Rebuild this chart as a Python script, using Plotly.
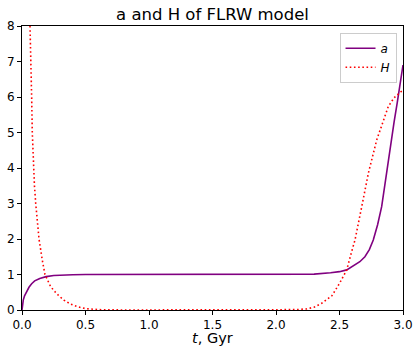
import plotly.graph_objects as go

# Scale factor a(t)
t_a = [0.0, 0.005, 0.01, 0.02, 0.037, 0.055, 0.076, 0.1, 0.14, 0.19, 0.25, 0.32, 0.4, 0.5,
       1.0, 1.5, 2.0, 2.3, 2.43, 2.5, 2.557, 2.6, 2.66, 2.70, 2.735, 2.766, 2.80, 2.832,
       2.87, 2.906, 2.93, 2.955, 2.98, 3.0]
a_vals = [0.0, 0.17, 0.28, 0.4, 0.52, 0.64, 0.74, 0.82, 0.89, 0.94, 0.97, 0.985, 0.995, 1.0,
          1.0, 1.0, 1.0, 1.01, 1.05, 1.08, 1.13, 1.22, 1.36, 1.5, 1.7, 1.97, 2.4, 2.91,
          3.85, 4.79, 5.3, 5.85, 6.4, 6.9]

# Hubble parameter H(t)
t_H = [0.063, 0.067, 0.071, 0.076, 0.081, 0.089, 0.098, 0.108, 0.12, 0.134, 0.16, 0.181,
       0.22, 0.247, 0.29, 0.33, 0.38, 0.44, 0.5, 0.6, 0.8, 1.0, 1.5, 2.0, 2.15, 2.24, 2.3,
       2.36, 2.44, 2.5, 2.557, 2.596, 2.622, 2.675, 2.727, 2.793, 2.84, 2.884, 2.93, 2.976, 3.0]
H_vals = [8.0, 7.5, 7.0, 6.0, 5.0, 4.0, 3.5, 3.0, 2.5, 2.0, 1.4, 1.0,
          0.7, 0.56, 0.4, 0.28, 0.17, 0.09, 0.04, 0.01, 0.0, 0.0, 0.0, 0.0, 0.01, 0.03, 0.08,
          0.19, 0.4, 0.75, 1.13, 1.65, 1.97, 2.91, 3.85, 4.79, 5.3, 5.73, 5.98, 6.12, 6.2]

x_ticks = [0.0, 0.5, 1.0, 1.5, 2.0, 2.5, 3.0]
x_ticktext = ["0.0", "0.5", "1.0", "1.5", "2.0", "2.5", "3.0"]
y_ticks = [0, 1, 2, 3, 4, 5, 6, 7, 8]

FONT = "DejaVu Sans"
W, H = 414, 346
L, R, T, B = 22, 11, 26, 36

fig = go.Figure()
fig.add_trace(go.Scatter(x=t_a, y=a_vals, mode="lines", name="<i>a</i>",
                         line=dict(color="purple", width=1.6)))
fig.add_trace(go.Scatter(x=t_H, y=H_vals, mode="lines", name="<i>H</i>",
                         line=dict(color="red", width=1.6, dash="1.6px,2.6px")))

fig.update_layout(
    width=W, height=H,
    margin=dict(l=L, r=R, t=T, b=B, autoexpand=False),
    paper_bgcolor="white", plot_bgcolor="white",
    font=dict(family=FONT, color="black", size=12),
    title=dict(text="a and H of FLRW model", x=0.5, xref="paper", xanchor="center",
               y=1 - 14 / H, yref="container", yanchor="middle",
               font=dict(family=FONT, size=16.5, color="black")),
    xaxis=dict(range=[0, 3], tickvals=x_ticks, ticktext=x_ticktext, automargin=False,
               showgrid=False, zeroline=False, showline=True, linecolor="black",
               linewidth=1, mirror=True, ticks="outside", ticklen=4, tickcolor="black",
               tickfont=dict(size=12)),
    yaxis=dict(range=[0, 8], tickvals=y_ticks, automargin=False,
               showgrid=False, zeroline=False, showline=True, linecolor="black",
               linewidth=1, mirror=True, ticks="outside", ticklen=4, tickcolor="black",
               tickfont=dict(size=12)),
    legend=dict(x=0.983, y=0.976, xanchor="right", yanchor="top",
                bgcolor="rgba(255,255,255,0.8)", bordercolor="#cccccc", borderwidth=1,
                font=dict(size=12), itemwidth=30, tracegroupgap=0),
    showlegend=True,
    annotations=[dict(text="<i>t</i>, Gyr", xref="paper", yref="paper",
                      x=0.5, y=-(338 - (H - B)) / (H - T - B), xanchor="center",
                      yanchor="middle", showarrow=False,
                      font=dict(family=FONT, size=14.5, color="black"))],
)

fig.write_html(
    "out.html",
    config={"displayModeBar": False},
    post_script="document.body.style.margin='0';document.body.style.padding='0';"
                "document.documentElement.style.overflow='hidden';",
)
